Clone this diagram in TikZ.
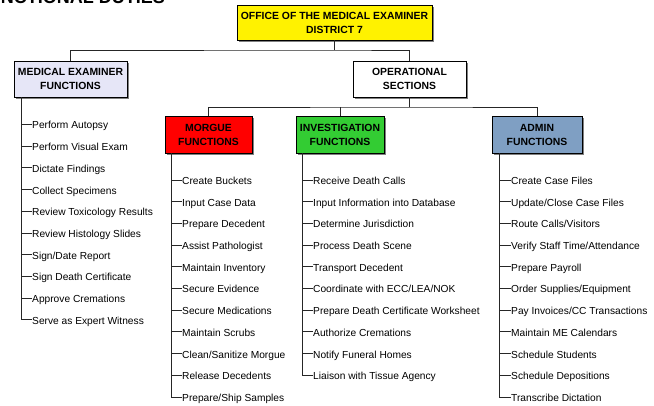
\documentclass[tikz,border=0pt]{standalone}
\usepackage{fontspec}
\setmainfont{Liberation Sans}
\usetikzlibrary{shadows,calc}
\begin{document}
\begin{tikzpicture}[x=1pt,y=-1pt,
  box/.style={draw=black,line width=0.8pt,align=center,inner sep=0pt,
    font=\bfseries\fontsize{10.4}{14}\selectfont,
    drop shadow={shadow xshift=2.2pt,shadow yshift=-2.2pt,fill=black!50,opacity=1}},
  item/.style={anchor=west,inner sep=0pt,text height=9pt,text depth=0pt,
    font=\fontsize{10.2}{12}\selectfont},
  conn/.style={line width=0.8pt,draw=black!85}]
\useasboundingbox (0,0) rectangle (654,406);
\clip (0,0) rectangle (654,406);
\definecolor{meblue}{HTML}{E6E6F7}
\definecolor{invgreen}{HTML}{33CC33}
\definecolor{admblue}{HTML}{7F9FC3}
\node[anchor=base east,inner sep=0pt,font=\bfseries\fontsize{18}{20}\selectfont] (title) at (165,4) {FUNCTIONAL DUTIES};
\node[box,fill=yellow,minimum width=195pt,minimum height=35pt] (top) at (334.5,22.5) {OFFICE OF THE MEDICAL EXAMINER\\DISTRICT 7};
\node[box,fill=meblue,minimum width=113pt,minimum height=36pt] (me) at (70.5,79) {MEDICAL EXAMINER\\FUNCTIONS};
\node[box,fill=white,minimum width=113pt,minimum height=36pt] (ops) at (409.5,79) {OPERATIONAL\\SECTIONS};
\node[box,fill=red,minimum width=87pt,minimum height=37pt] (morgue) at (208.5,134.5) {MORGUE\\FUNCTIONS};
\node[box,fill=invgreen,minimum width=88pt,minimum height=37pt] (inv) at (340,134.5) {INVESTIGATION\\FUNCTIONS};
\node[box,fill=admblue,minimum width=90pt,minimum height=37pt] (admin) at (537,134.5) {ADMIN\\FUNCTIONS};
% buses
\coordinate (b1) at (334.5,50);
\coordinate (b2) at (409.5,107);
\draw[conn] (top.south) -- (b1);
\draw[conn] (me.north) |- (b1) -| (ops.north);
\draw[conn] (ops.south) -- (b2);
\draw[conn] (morgue.north) |- (b2) -| (admin.north);
\draw[conn] (inv.north) -- (inv.north |- b2);
% spines
\coordinate (mes) at ($(me.south west)+(8,0)$);
\coordinate (mos) at ($(morgue.south west)+(7,0)$);
\coordinate (ivs) at ($(inv.south west)+(7,0)$);
\coordinate (ads) at ($(admin.south west)+(8,0)$);
% ME items
\foreach \t [count=\i] in {Perform Autopsy,Perform Visual Exam,Dictate Findings,Collect Specimens,Review Toxicology Results,Review Histology Slides,Sign/Date Report,Sign Death Certificate,Approve Cremations,Serve as Expert Witness}{
  \node[item] (mi\i) at (32,124.5+21.7*\i-21.7) {\t};
  \draw[conn] (mi\i.west -| mes) -- (mi\i.west);
}
\draw[conn] (mes) |- (mi10.west);
% Morgue items
\foreach \t [count=\i] in {Create Buckets,Input Case Data,Prepare Decedent,Assist Pathologist,Maintain Inventory,Secure Evidence,Secure Medications,Maintain Scrubs,Clean/Sanitize Morgue,Release Decedents,Prepare/Ship Samples}{
  \node[item] (mo\i) at (182,180+21.7*\i-21.7) {\t};
  \draw[conn] (mo\i.west -| mos) -- (mo\i.west);
}
\draw[conn] (mos) |- (mo11.west);
% Investigation items
\foreach \t [count=\i] in {Receive Death Calls,Input Information into Database,Determine Jurisdiction,Process Death Scene,Transport Decedent,Coordinate with ECC/LEA/NOK,Prepare Death Certificate Worksheet,Authorize Cremations,Notify Funeral Homes,Liaison with Tissue Agency}{
  \node[item] (iv\i) at (313,180+21.7*\i-21.7) {\t};
  \draw[conn] (iv\i.west -| ivs) -- (iv\i.west);
}
\draw[conn] (ivs) |- (iv10.west);
% Admin items
\foreach \t [count=\i] in {Create Case Files,Update/Close Case Files,Route Calls/Visitors,Verify Staff Time/Attendance,Prepare Payroll,Order Supplies/Equipment,Pay Invoices/CC Transactions,Maintain ME Calendars,Schedule Students,Schedule Depositions,Transcribe Dictation}{
  \node[item] (ad\i) at (511,180+21.7*\i-21.7) {\t};
  \draw[conn] (ad\i.west -| ads) -- (ad\i.west);
}
\draw[conn] (ads) |- (ad11.west);
\end{tikzpicture}
\end{document}
